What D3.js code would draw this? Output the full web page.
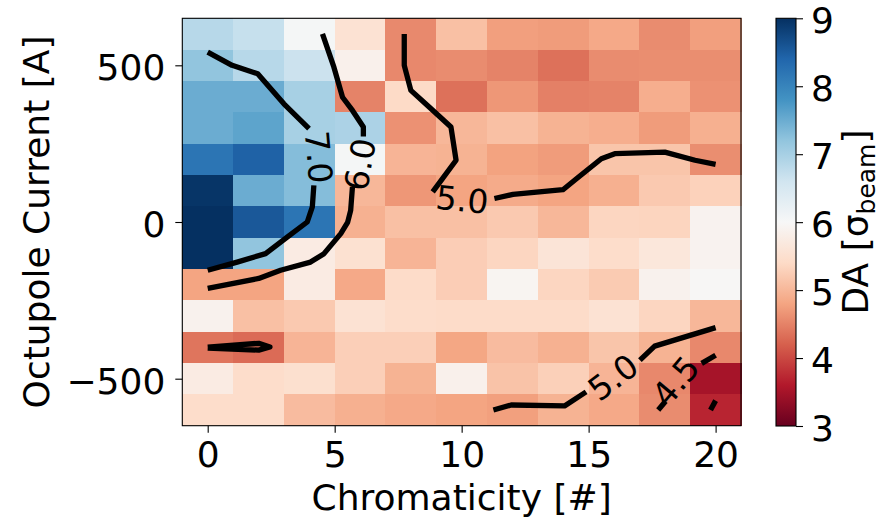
<!DOCTYPE html>
<html>
<head>
<meta charset="utf-8">
<script src="https://cdn.jsdelivr.net/npm/d3@7"></script>
<style>
  html, body { margin: 0; padding: 0; background: #ffffff; }
  svg { display: block; font-family: "DejaVu Sans", sans-serif; }
</style>
</head>
<body>
<svg id="chart" width="888" height="520"></svg>
<script>
// Grid of the scan: chromaticity (columns) and octupole current (rows, top to bottom)
const chromaticity = [0, 2, 4, 6, 8, 10, 12, 14, 16, 18, 20];
const octupoleCurrent = [600, 500, 400, 300, 200, 100, 0, -100, -200, -300, -400, -500, -600];

// Dynamic aperture in units of sigma_beam, one row per octupole current
const daValues = [
  [6.85, 6.70, 6.05, 5.55, 4.56, 5.10, 4.75, 4.72, 4.85, 4.58, 4.75],
  [7.20, 6.85, 6.65, 5.85, 4.55, 4.58, 4.50, 4.35, 4.58, 4.60, 4.60],
  [7.50, 7.50, 7.00, 4.50, 5.40, 4.35, 4.68, 4.48, 4.50, 4.90, 4.63],
  [7.50, 7.60, 7.00, 6.95, 4.63, 5.00, 5.10, 4.95, 4.90, 4.72, 4.92],
  [8.20, 8.45, 7.30, 6.05, 4.97, 4.95, 4.78, 4.72, 5.15, 5.15, 4.60],
  [8.95, 7.50, 7.30, 5.00, 4.68, 4.80, 4.87, 4.80, 4.92, 5.20, 5.30],
  [9.00, 8.55, 8.20, 4.93, 5.10, 5.10, 5.20, 5.00, 5.35, 5.33, 5.90],
  [9.00, 7.20, 5.75, 5.52, 4.97, 5.25, 5.35, 5.60, 5.45, 5.65, 5.90],
  [4.80, 4.80, 5.75, 4.85, 5.42, 5.25, 5.93, 5.35, 5.22, 5.88, 5.97],
  [5.88, 5.10, 5.20, 5.55, 5.45, 5.42, 5.42, 5.42, 5.55, 5.35, 5.00],
  [4.38, 4.30, 4.97, 5.27, 5.27, 4.82, 5.05, 4.93, 5.15, 4.95, 4.55],
  [5.75, 5.45, 5.50, 5.27, 4.95, 5.85, 5.13, 5.28, 4.97, 4.55, 3.50],
  [5.45, 5.45, 5.05, 4.92, 4.85, 4.80, 4.76, 4.95, 4.85, 4.58, 3.70]
];

// Iso-DA contour lines, each level as a list of polylines [chromaticity, current]
const contour70 = [
  [[0, 542], [0.96, 500], [1.97, 473], [3.0, 377], [3.99, 298]],
  [[4.18, 117], [4.12, 48], [3.92, 0], [3.13, -48], [2.28, -101], [1.16, -128], [0, -154]]
];
const contour60 = [
  [[4.52, 600], [4.97, 494], [5.31, 398], [5.70, 356], [6.13, 303], [6.13, 273]],
  [[5.70, 112], [5.63, 37], [5.51, -1], [5.24, -37], [4.58, -101], [4.05, -128], [2.87, -154], [2.01, -180], [0, -212]]
];
const contour50 = [
  [[7.74, 600], [7.74, 500], [8.0, 420], [8.72, 367], [9.58, 303], [9.78, 197], [8.86, 96]],
  [[11.29, 75], [12.02, 88], [13.99, 103], [14.52, 138], [15.5, 202], [16.03, 218], [18.0, 223], [19.19, 197], [20, 184]],
  [[11.25, -600], [11.95, -584], [14.05, -587], [14.9, -542]],
  [[17.02, -441], [17.6, -396], [20, -337]]
];
const contour45 = [
  [[0, -399], [2.01, -387], [2.45, -399], [2.01, -409], [0, -402]],
  [[17.74, -600], [18.03, -572]],
  [[19.45, -451], [20, -425]],
  [[19.8, -600], [20, -570]]
];
const contourLines = [contour70, contour60, contour50, contour45];

// Inline contour labels: level text, anchor point and text angle
const contourLabels = [
  { text: "7.0", x: 4.38, y: 207, angle: 85 },
  { text: "6.0", x: 5.99, y: 184, angle: -80 },
  { text: "5.0", x: 10.02, y: 72, angle: 6 },
  { text: "5.0", x: 15.96, y: -495, angle: -37 },
  { text: "4.5", x: 18.42, y: -507, angle: -50 }
];

const xTicks = [0, 5, 10, 15, 20];
const yTicks = [-500, 0, 500];
const colorTicks = [3, 4, 5, 6, 7, 8, 9];
const daRange = [3, 9];

// RdBu colormap, red at low DA and blue at high DA
const rdbu = ["#67001f", "#b2182b", "#d6604d", "#f4a582", "#fddbc7", "#f7f7f7",
              "#d1e5f0", "#92c5de", "#4393c3", "#2166ac", "#053061"];
const color = d3.scaleLinear()
  .domain(rdbu.map((_, i) => daRange[0] + (daRange[1] - daRange[0]) * i / (rdbu.length - 1)))
  .range(rdbu)
  .interpolate(d3.interpolateRgb)
  .clamp(true);

const svg = d3.select("#chart");
const plot = { left: 182.3, right: 741, top: 18.3, bottom: 425.7 };
const bar = { left: 776, right: 796 };
const fontSize = 36;

const dx = chromaticity[1] - chromaticity[0];
const dy = octupoleCurrent[0] - octupoleCurrent[1];

const x = d3.scaleLinear()
  .domain([d3.min(chromaticity) - dx / 2, d3.max(chromaticity) + dx / 2])
  .range([plot.left, plot.right]);
const y = d3.scaleLinear()
  .domain([d3.min(octupoleCurrent) - dy / 2, d3.max(octupoleCurrent) + dy / 2])
  .range([plot.bottom, plot.top]);

// Heatmap cells
const cells = [];
octupoleCurrent.forEach((cur, i) => {
  chromaticity.forEach((chr, j) => cells.push({ chr, cur, v: daValues[i][j] }));
});
svg.append("g")
  .attr("shape-rendering", "crispEdges")
  .selectAll("rect")
  .data(cells)
  .join("rect")
  .attr("x", d => x(d.chr - dx / 2))
  .attr("y", d => y(d.cur + dy / 2))
  .attr("width", d => x(d.chr + dx / 2) - x(d.chr - dx / 2) + 0.5)
  .attr("height", d => y(d.cur - dy / 2) - y(d.cur + dy / 2) + 0.5)
  .attr("fill", d => color(d.v));

// Contour lines
const line = d3.line().x(d => x(d[0])).y(d => y(d[1]));
svg.append("g")
  .selectAll("path")
  .data(contourLines.flat())
  .join("path")
  .attr("d", line)
  .attr("fill", "none")
  .attr("stroke", "#000")
  .attr("stroke-width", 5.3)
  .attr("stroke-linejoin", "round")
  .attr("stroke-linecap", "butt");

svg.append("g")
  .selectAll("text")
  .data(contourLabels)
  .join("text")
  .attr("transform", d => `translate(${x(d.x)},${y(d.y)}) rotate(${d.angle})`)
  .attr("text-anchor", "middle")
  .attr("dy", "0.36em")
  .attr("font-size", 33)
  .attr("fill", "#000")
  .text(d => d.text);

// Plot frame
svg.append("rect")
  .attr("x", plot.left).attr("y", plot.top)
  .attr("width", plot.right - plot.left).attr("height", plot.bottom - plot.top)
  .attr("fill", "none").attr("stroke", "#000").attr("stroke-width", 1.1);

function styleAxis(g) {
  g.select(".domain").remove();
  g.selectAll(".tick line").attr("stroke", "#000").attr("stroke-width", 1.1);
  g.selectAll(".tick text").attr("fill", "#000").attr("font-size", fontSize)
    .attr("font-family", "DejaVu Sans, sans-serif");
}

const fmt = v => (v < 0 ? "\u2212" + Math.abs(v) : String(v));

svg.append("g")
  .attr("transform", `translate(0,${plot.bottom})`)
  .call(d3.axisBottom(x).tickValues(xTicks).tickSize(7).tickPadding(9).tickFormat(fmt))
  .call(styleAxis);

svg.append("g")
  .attr("transform", `translate(${plot.left},0)`)
  .call(d3.axisLeft(y).tickValues(yTicks).tickSize(7).tickPadding(10).tickFormat(fmt))
  .call(styleAxis)
  .call(g => g.selectAll(".tick text").attr("dy", "0.4em"));

// Axis titles
svg.append("text")
  .attr("x", (plot.left + plot.right) / 2)
  .attr("y", 510)
  .attr("text-anchor", "middle")
  .attr("font-size", fontSize)
  .text("Chromaticity [#]");

svg.append("text")
  .attr("transform", `translate(49,${(plot.top + plot.bottom) / 2}) rotate(-90)`)
  .attr("text-anchor", "middle")
  .attr("font-size", fontSize)
  .text("Octupole Current [A]");

// Colorbar
const cbar = d3.scaleLinear().domain(daRange).range([426, 18.3]);
const defs = svg.append("defs");
const grad = defs.append("linearGradient")
  .attr("id", "da-gradient")
  .attr("x1", 0).attr("y1", 1).attr("x2", 0).attr("y2", 0);
grad.selectAll("stop")
  .data(color.domain())
  .join("stop")
  .attr("offset", d => (d - daRange[0]) / (daRange[1] - daRange[0]))
  .attr("stop-color", d => color(d));

svg.append("rect")
  .attr("x", bar.left).attr("y", cbar(daRange[1]))
  .attr("width", bar.right - bar.left).attr("height", cbar(daRange[0]) - cbar(daRange[1]))
  .attr("fill", "url(#da-gradient)")
  .attr("stroke", "#000").attr("stroke-width", 1.1);

svg.append("g")
  .attr("transform", `translate(${bar.right},0)`)
  .call(d3.axisRight(cbar).tickValues(colorTicks).tickSize(7).tickPadding(8).tickFormat(fmt))
  .call(styleAxis)
  .call(g => g.selectAll(".tick text").attr("dy", "0.4em"));

const cbLabel = svg.append("text")
  .attr("transform", `translate(868,${(plot.top + plot.bottom) / 2}) rotate(-90)`)
  .attr("text-anchor", "middle")
  .attr("font-size", fontSize);
cbLabel.append("tspan").text("DA [\u03C3");
cbLabel.append("tspan").attr("font-size", 25).attr("dy", 7).text("beam");
cbLabel.append("tspan").attr("dy", -7).text("]");
</script>
</body>
</html>
